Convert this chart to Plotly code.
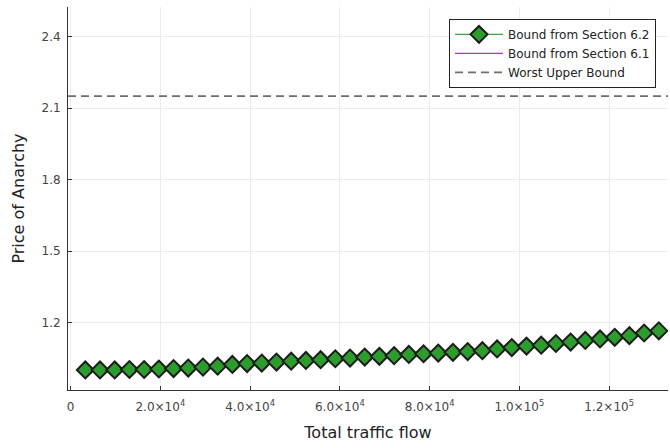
import plotly.graph_objects as go

# Total traffic flow values
flow = [3277, 6554, 9831, 13108, 16385, 19662, 22939, 26216, 29493, 32770,
        36047, 39324, 42601, 45878, 49155, 52432, 55709, 58986, 62263, 65540,
        68817, 72094, 75371, 78648, 81925, 85202, 88479, 91756, 95033, 98310,
        101587, 104864, 108141, 111418, 114695, 117972, 121249, 124526, 127803, 131080]

# Price-of-anarchy bound from Section 6.2
poa_62 = [1.002, 1.002, 1.002, 1.004, 1.004, 1.006, 1.008, 1.010, 1.014, 1.018,
          1.025, 1.029, 1.031, 1.035, 1.039, 1.042, 1.045, 1.049, 1.052, 1.056,
          1.059, 1.062, 1.067, 1.070, 1.073, 1.076, 1.079, 1.083, 1.090, 1.096,
          1.102, 1.106, 1.113, 1.119, 1.126, 1.132, 1.139, 1.146, 1.157, 1.166]

# Price-of-anarchy bound from Section 6.1
poa_61 = list(poa_62)

worst_bound = 2.15

x_ticks = [0, 20000, 40000, 60000, 80000, 100000, 120000]
x_tick_text = ["0", "2.0×10<sup>4</sup>", "4.0×10<sup>4</sup>", "6.0×10<sup>4</sup>",
               "8.0×10<sup>4</sup>", "1.0×10<sup>5</sup>", "1.2×10<sup>5</sup>"]
y_ticks = [1.2, 1.5, 1.8, 2.1, 2.4]
y_tick_text = ["1.2", "1.5", "1.8", "2.1", "2.4"]

x_range = [-580, 133120]
y_range = [0.918, 2.524]

FONT = "DejaVu Sans"

fig = go.Figure()

fig.add_trace(go.Scatter(
    x=flow, y=poa_61, mode="lines", name="Bound from Section 6.1",
    line=dict(color="#a23cbf", width=1.2),
))

fig.add_trace(go.Scatter(
    x=flow, y=poa_62, mode="lines+markers", name="Bound from Section 6.2",
    line=dict(color="#3aa83a", width=1.2),
    marker=dict(symbol="diamond", size=13, color="#2c9c2c",
                line=dict(color="#1c1c1c", width=2)),
))

fig.add_trace(go.Scatter(
    x=x_range, y=[worst_bound, worst_bound], mode="lines", name="Worst Upper Bound",
    line=dict(color="#6e6e6e", width=1.8, dash="8px,5px"),
))

fig.update_layout(
    width=670, height=448,
    margin=dict(l=68, r=2, t=7, b=58),
    paper_bgcolor="white", plot_bgcolor="white",
    font=dict(family=FONT, color="#333333"),
    legend=dict(
        x=0.98, y=0.969, xanchor="right", yanchor="top",
        bgcolor="white", bordercolor="#222222", borderwidth=1,
        font=dict(family=FONT, size=12, color="#222222"),
        traceorder="normal",
        itemwidth=48,
    ),
    xaxis=dict(
        range=x_range, tickmode="array", tickvals=x_ticks, ticktext=x_tick_text,
        showgrid=True, gridcolor="#ececec", gridwidth=1,
        showline=True, linecolor="#333333", linewidth=1,
        ticks="inside", ticklen=4, tickcolor="#333333",
        zeroline=False, ticklabelstandoff=6,
        tickfont=dict(family=FONT, size=12, color="#444444"),
        title=dict(text="Total traffic flow", font=dict(family=FONT, size=16, color="#222222"),
                   standoff=13),
    ),
    yaxis=dict(
        range=y_range, tickmode="array", tickvals=y_ticks, ticktext=y_tick_text,
        showgrid=True, gridcolor="#ececec", gridwidth=1,
        showline=True, linecolor="#333333", linewidth=1,
        ticks="inside", ticklen=4, tickcolor="#333333",
        zeroline=False, ticklabelstandoff=4,
        tickfont=dict(family=FONT, size=12, color="#444444"),
        title=dict(text="Price of Anarchy", font=dict(family=FONT, size=16, color="#222222"),
                   standoff=12),
    ),
)

# legend order: Section 6.2, Section 6.1, Worst Upper Bound
fig.data[0].legendrank = 2
fig.data[1].legendrank = 1
fig.data[2].legendrank = 3

fig.write_html("out.html")
